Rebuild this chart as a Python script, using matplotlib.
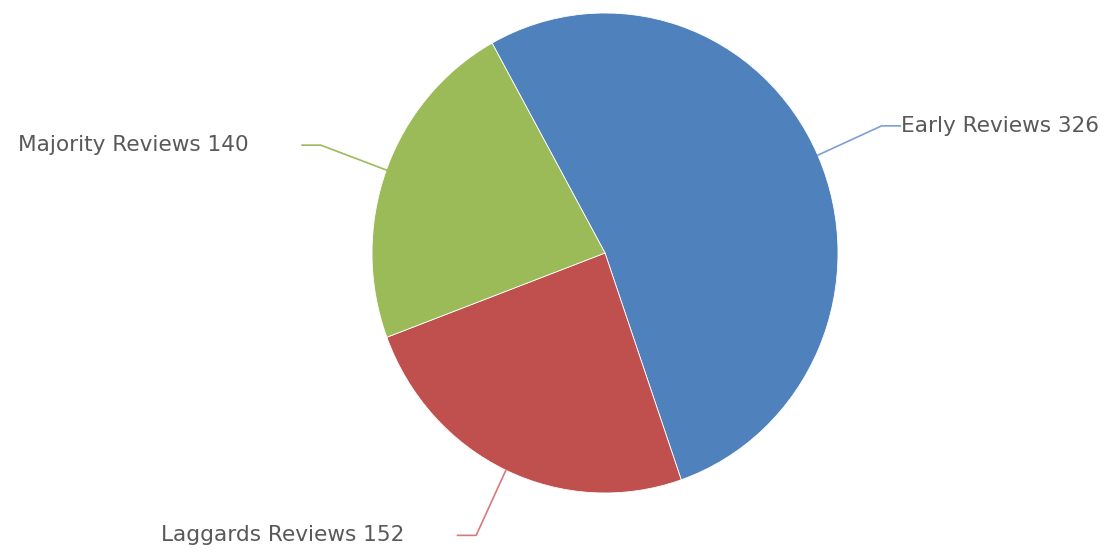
import numpy as np
import matplotlib
matplotlib.use("Agg")
import matplotlib.pyplot as plt

categories = ["Early Reviews", "Laggards Reviews", "Majority Reviews"]
values = [326, 152, 140]
colors = ["#4F81BD", "#C0504D", "#9BBB59"]
line_colors = ["#7F9FD0", "#D9797A", "#9BBB59"]

W, H = 1111, 554
fig = plt.figure(figsize=(W / 100, H / 100), dpi=100)
ax = fig.add_axes([0, 0, 1, 1])

# pie centre / radii in pixels (slightly taller than wide)
cx, cy = 605, 253
rx, ry = 233, 240

wedges, _ = ax.pie(values, colors=colors, startangle=119, counterclock=False,
                   radius=1, center=(0, 0),
                   wedgeprops=dict(edgecolor="white", linewidth=0.6))
ax.set_aspect("auto")
ax.set_xlim(-cx / rx, (W - cx) / rx)
ax.set_ylim(-(H - cy) / ry, cy / ry)

for w, label, val, lc in zip(wedges, categories, values, line_colors):
    mid = np.deg2rad((w.theta1 + w.theta2) / 2)
    x0, y0 = np.cos(mid), np.sin(mid)
    r_elbow = 1.3
    x1, y1 = r_elbow * np.cos(mid), r_elbow * np.sin(mid)
    side = 1 if x0 >= 0 else -1
    x2 = x1 + side * 0.08
    ax.plot([x0, x1, x2], [y0, y1, y1], color=lc, lw=1.2, solid_joinstyle="miter")
    gap = 0.005 if side > 0 else 0.23
    ax.text(x2 + side * gap, y1, f"{label} {val}", ha="left" if side > 0 else "right",
            va="center", fontsize=15.6, color="#595959", family="DejaVu Sans")

fig.savefig("out.png", dpi=100)
